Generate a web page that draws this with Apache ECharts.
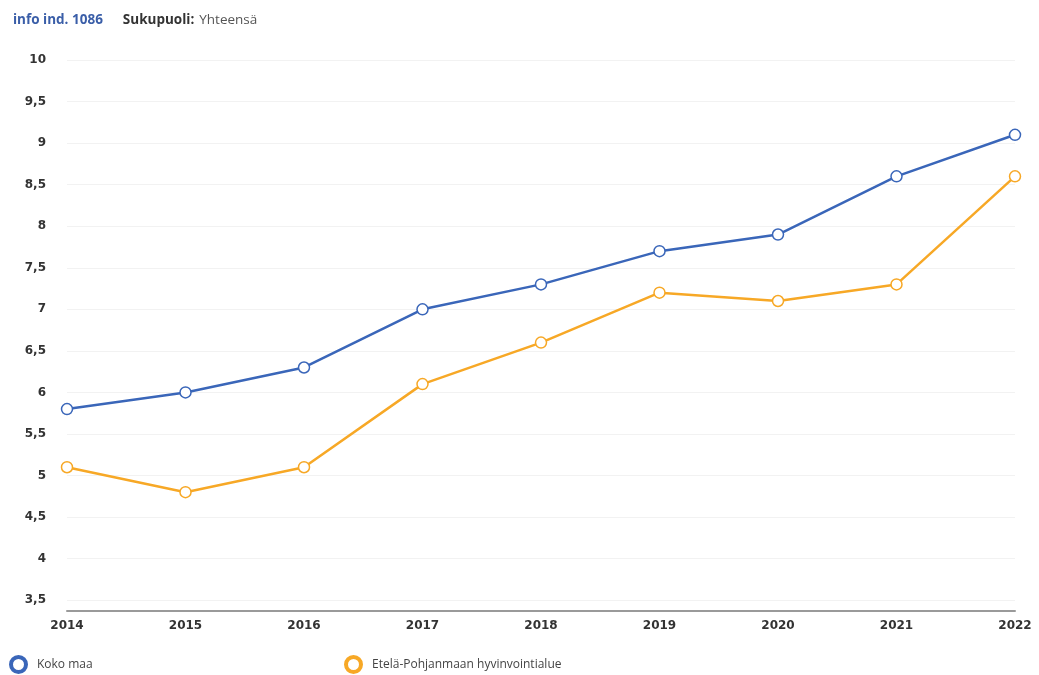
<!DOCTYPE html>
<html><head><meta charset="utf-8">
<script src="https://cdn.jsdelivr.net/npm/echarts@6/dist/echarts.min.js"></script>
<style>html,body{margin:0;padding:0;background:#fff}#c{width:1039px;height:675px}</style>
</head><body><div id="c"></div>
<script>
const years = ['2014','2015','2016','2017','2018','2019','2020','2021','2022'];
const kokoMaa = [5.8, 6.0, 6.3, 7.0, 7.3, 7.7, 7.9, 8.6, 9.1];
const etelaPohjanmaa = [5.1, 4.8, 5.1, 6.1, 6.6, 7.2, 7.1, 7.3, 8.6];
const yTicks = [3.5, 4, 4.5, 5, 5.5, 6, 6.5, 7, 7.5, 8, 8.5, 9, 9.5, 10];
const seriesNames = ['Koko maa', 'Etelä-Pohjanmaan hyvinvointialue'];
const colors = ['#3a66b9', '#f7a826'];

const chart = echarts.init(document.getElementById('c'));
chart.setOption({
  animation: false,
  title: {
    left: 8, top: 6,
    text: '{a|info ind. 1086}    {b|Sukupuoli:} {c|Yhteensä}',
    textStyle: {
      fontWeight: 'normal',
      rich: {
        a: {fontFamily: 'Open Sans', fontWeight: 'bold', fontSize: 13.5, color: '#3a5ea8'},
        b: {fontFamily: 'Open Sans', fontWeight: 'bold', fontSize: 13.5, color: '#333'},
        c: {fontFamily: 'Open Sans', fontWeight: 'normal', fontSize: 13.5, color: '#555'}
      }
    }
  },
  legend: [
    {data: [seriesNames[0]], left: 4, top: 650, icon: 'circle', itemWidth: 15, itemHeight: 15,
     itemStyle: {color: '#fff', borderWidth: 4},
     textStyle: {fontFamily: 'Open Sans', fontSize: 12, color: '#444', padding: [0, 0, 0, 6]}},
    {data: [seriesNames[1]], left: 339, top: 650, icon: 'circle', itemWidth: 15, itemHeight: 15,
     itemStyle: {color: '#fff', borderWidth: 4},
     textStyle: {fontFamily: 'Open Sans', fontSize: 12, color: '#444', padding: [0, 0, 0, 6]}}
  ],
  grid: {left: 67, right: 24, top: 60, bottom: 64},
  xAxis: {
    type: 'category', data: years, boundaryGap: false,
    axisLine: {lineStyle: {color: '#9a9a9a', width: 2}},
    axisTick: {show: false},
    axisLabel: {fontFamily: 'DejaVu Sans', fontWeight: 'bold', fontSize: 12, color: '#333', margin: 9}
  },
  yAxis: {
    type: 'value', min: 3.37, max: 10,
    axisLine: {show: false}, axisTick: {show: false, customValues: yTicks},
    axisLabel: {customValues: yTicks, fontFamily: 'DejaVu Sans', fontWeight: 'bold', fontSize: 12, color: '#333', margin: 21,
      padding: [3, 0, 0, 0], formatter: v => String(v).replace('.', ',')},
    splitLine: {lineStyle: {color: '#f2f2f2'}}
  },
  series: [
    {name: seriesNames[0], type: 'line', data: kokoMaa, color: colors[0],
     symbol: 'circle', symbolSize: 11, lineStyle: {width: 2.5, color: colors[0]},
     itemStyle: {color: '#fff', borderColor: colors[0], borderWidth: 1.5}},
    {name: seriesNames[1], type: 'line', data: etelaPohjanmaa, color: colors[1],
     symbol: 'circle', symbolSize: 11, lineStyle: {width: 2.5, color: colors[1]},
     itemStyle: {color: '#fff', borderColor: colors[1], borderWidth: 1.5}}
  ]
});
</script></body></html>
